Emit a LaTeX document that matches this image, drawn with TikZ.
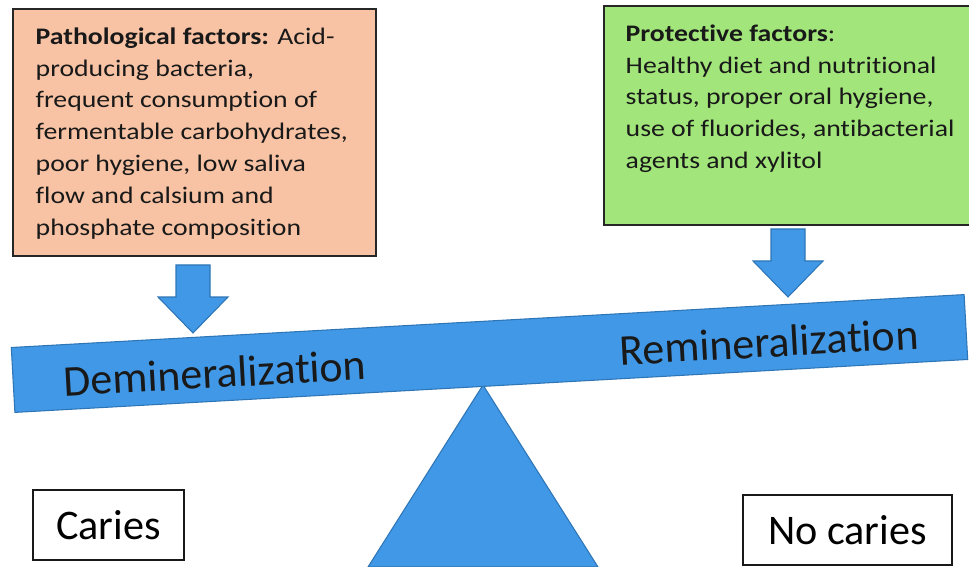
\documentclass[tikz,border=0pt]{standalone}
\usepackage{fontspec}
\setmainfont{Carlito}[Ligatures=NoCommon]
\newfontfamily\widefont[FakeStretch=1.17,Ligatures=NoCommon]{Carlito}
\usetikzlibrary{positioning}
\definecolor{peach}{HTML}{F8C3A4}
\definecolor{lime}{HTML}{A2E57A}
\definecolor{beamblue}{HTML}{4198E6}
\definecolor{edgeblue}{HTML}{2E75B6}
\begin{document}
\begin{tikzpicture}[x=0.02cm,y=-0.02cm,thick,
  factorbox/.style={draw=black!85,line width=1.3pt,anchor=north west,inner sep=0pt},
  factortext/.style={anchor=north west,align=left,inner sep=0pt,text=black!90,
    font=\widefont\fontsize{13.5}{18.1}\selectfont},
  outcome/.style={draw=black!90,line width=1pt,inner sep=0pt,
    font=\fontsize{24}{28}\selectfont},
  beamtext/.style={rotate=3.18,inner sep=0pt,text=black!90,
    font=\fontsize{25}{29}\selectfont},
  bluepart/.style={fill=beamblue,draw=edgeblue,line width=0.6pt},
  dnarrow/.pic={\path[bluepart] (-17,0) -- (17,0) -- (17,32) -- (35,32)
    -- (0,68) -- (-35,32) -- (-17,32) -- cycle;}]
\useasboundingbox (0,0) rectangle (969,567);
\clip (0,0) rectangle (969,567);
% factor boxes
\node[factorbox,fill=peach,minimum width=7.26cm,minimum height=4.94cm] (patho) at (12,8) {};
\node[factortext] (pathotext) at (35,27) {\textbf{Pathological factors:} Acid-\\
  producing bacteria,\\ frequent consumption of\\ fermentable carbohydrates,\\
  poor hygiene, low saliva\\ flow and calsium and\\ phosphate composition};
\node[factorbox,fill=lime,minimum width=7.44cm,minimum height=4.38cm] (protect) at (603,5) {};
\node[factortext] (protecttext) at (625,24) {\textbf{Protective factors}:\\
  Healthy diet and nutritional\\ status, proper oral hygiene,\\
  use of fluorides, antibacterial\\ agents and xylitol};
% arrows onto the beam
\pic at (193,265) {dnarrow};
\pic at (788,229) {dnarrow};
% seesaw
\path[bluepart] (483,385) -- (598,567) -- (368,567) -- cycle;
\node[bluepart,rotate=3.18,minimum width=19.09cm,minimum height=1.3cm] (beam) at (489.5,353.5) {};
\node[beamtext] (demin) at (215,373) {Demineralization};
\node[beamtext] (remin) at (769,342) {Remineralization};
% outcomes
\node[outcome,minimum width=3.02cm,minimum height=1.4cm] (caries) at (108.5,525) {Caries};
\node[outcome,minimum width=4.18cm,minimum height=1.4cm] (nocaries) at (847.5,530) {No caries};
\end{tikzpicture}
\end{document}
